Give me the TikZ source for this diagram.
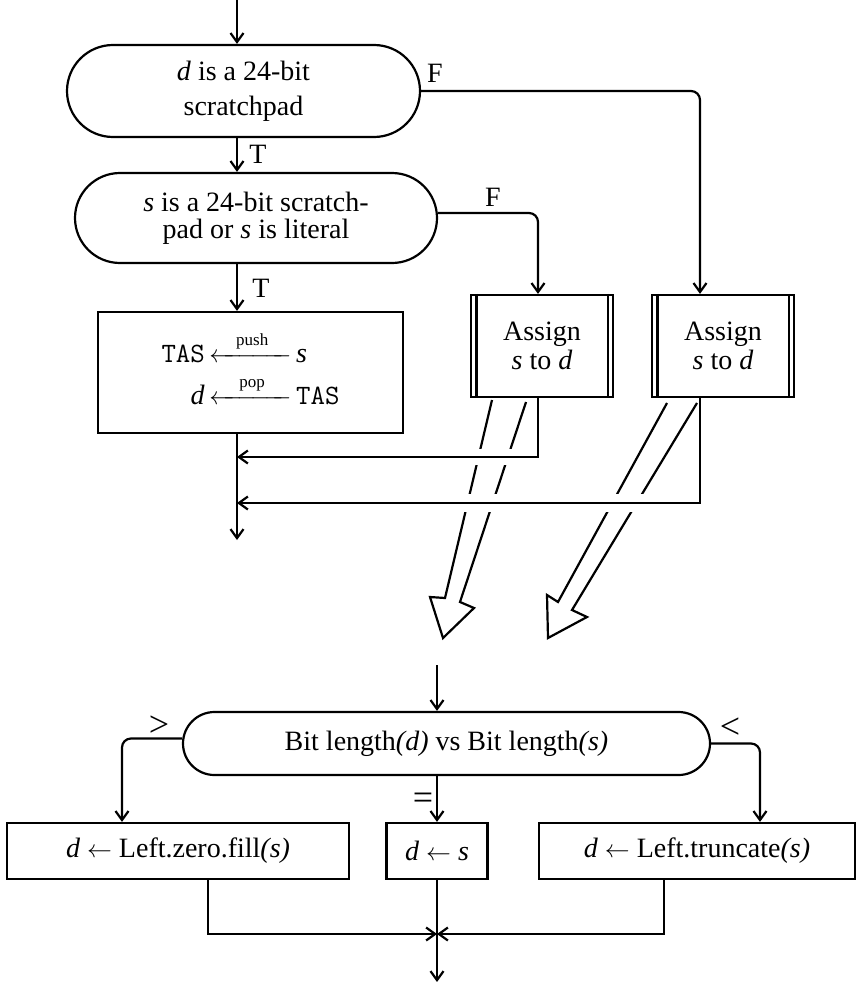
\documentclass[tikz,border=0pt]{standalone}
\usepackage{amsmath}
\usepackage{fontspec}
\setmainfont{Liberation Serif}
\usetikzlibrary{shapes.misc,arrows.meta}
\begin{document}
\begin{tikzpicture}[x=1pt,y=-1pt,line width=2.2pt,
  >={Straight Barb[length=9pt,width=13pt]},
  txt/.style={font=\fontsize{28}{30}\selectfont},
  dec/.style={draw,rounded rectangle,inner sep=0pt,align=center,txt},
  proc/.style={draw,rectangle,inner sep=0pt,align=center,txt},
  lbl/.style={txt,inner sep=0pt},
  sym/.style={inner sep=0pt,font=\fontsize{36}{36}\selectfont},
  gap/.style={fill=white,draw=none},
  hollow/.style={line join=miter,line cap=butt}]
\useasboundingbox (0,0) rectangle (860,982);

% column coordinates
\coordinate (colM) at (237,0);
\coordinate (colA1) at (538,0);
\coordinate (colA2) at (700,0);
\coordinate (colN) at (437,0);
\coordinate (colL) at (122,0);
\coordinate (colR) at (760,0);
\coordinate (colB1) at (208,0);
\coordinate (colB3) at (664,0);
\coordinate (mainend) at (237,540);
\coordinate (j1) at (237,457);
\coordinate (j2) at (237,503);
\coordinate (in3) at (437,665);
\coordinate (jx) at (437,934);
\coordinate (out) at (437,982);

% nodes
\node[dec,minimum width=353pt,minimum height=92pt,font=\fontsize{28}{35}\selectfont] (d1) at (243.5,91) {\textit{d} is a 24-bit\\scratchpad};
\node[dec,minimum width=362pt,minimum height=90pt,font=\fontsize{28}{27}\selectfont] (d2) at (256,218) {\textit{s} is a 24-bit scratch-\\pad or \textit{s} is literal};
\node[proc,minimum width=305pt,minimum height=121pt] (tas) at (250.5,372.5) {%
  \begin{tabular}{@{}r@{\,}c@{\,}l@{}}
  \texttt{TAS} & $\xleftarrow{\makebox[66pt]{\raisebox{3pt}{\fontsize{17}{17}\selectfont push}}}$ & \textit{s}\\[5pt]
  \textit{d} & $\xleftarrow{\makebox[66pt]{\raisebox{3pt}{\fontsize{17}{17}\selectfont pop}}}$ & \texttt{TAS}
  \end{tabular}};
\node[proc,minimum width=142pt,minimum height=102pt,font=\fontsize{28}{29}\selectfont] (a1) at (542,346) {Assign\\\textit{s} to \textit{d}};
\node[proc,minimum width=142pt,minimum height=102pt,font=\fontsize{28}{29}\selectfont] (a2) at (723,346) {Assign\\\textit{s} to \textit{d}};
\draw ([xshift=6.5pt]a1.north west) -- ([xshift=6.5pt]a1.south west);
\draw ([xshift=-6.5pt]a1.north east) -- ([xshift=-6.5pt]a1.south east);
\draw ([xshift=6.5pt]a2.north west) -- ([xshift=6.5pt]a2.south west);
\draw ([xshift=-6.5pt]a2.north east) -- ([xshift=-6.5pt]a2.south east);

\node[dec,minimum width=527pt,minimum height=63pt] (d3) at (446.5,743.5) {Bit length\textit{(d)} vs Bit length\textit{(s)}};
\node[proc,minimum width=342pt,minimum height=56pt] (b1) at (178,851) {\textit{d} $\leftarrow$ Left.zero.fill\textit{(s)}};
\node[proc,minimum width=101pt,minimum height=56pt] (b2) at (437,851) {\textit{d} $\leftarrow$ \textit{s}};
\node[proc,minimum width=316pt,minimum height=56pt] (b3) at (697,851) {\textit{d} $\leftarrow$ Left.truncate\textit{(s)}};

% labels
\node[lbl] (lF1) at (435,73) {F};
\node[lbl] (lF2) at (493,197) {F};
\node[lbl] (lT1) at (258,154) {T};
\node[lbl] (lT2) at (261,288) {T};
\node[sym] (lgt) at (159,726) {>};
\node[sym] (llt) at (730,728) {<};
\node[sym] (leq) at (423,801) {=};

% hollow arrows
\draw[hollow] (492,400) -- (445,598) -- (430,597) -- (443,638) -- (474,608) -- (460,602) -- (526,402);
\draw[hollow] (667,403) -- (558,602) -- (547,595) -- (548,638) -- (587,617) -- (572,610) -- (697,403);
\fill[gap] (470,449) rectangle (516,465);
\fill[gap] (458,494) rectangle (502,512);
\fill[gap] (603,494) rectangle (646,512);

% connectors
\draw[->] (colM) -- (colM |- d1.north);
\draw[->] (colM |- d1.south) -- (colM |- d2.north);
\draw[->] (colM |- d2.south) -- (colM |- tas.north);
\draw[->] (colM |- tas.south) -- (mainend);
\draw[->,rounded corners=9pt] (d1.east) -- (d1.east -| colA2) -- (colA2 |- a2.north);
\draw[->,rounded corners=9pt] ([yshift=5pt]d2.east) -- ([yshift=5pt]d2.east -| colA1) -- (colA1 |- a1.north);
\draw[->] (colA1 |- a1.south) -- (colA1 |- j1) -- (j1);
\draw[->] (colA2 |- a2.south) -- (colA2 |- j2) -- (j2);

\draw[->] (in3) -- (colN |- d3.north);
\draw[->,rounded corners=9pt] ([yshift=5pt]d3.west) -- ([yshift=5pt]d3.west -| colL) -- (colL |- b1.north);
\draw[->,rounded corners=9pt] (d3.east) -- (d3.east -| colR) -- (colR |- b3.north);
\draw[->] (colN |- d3.south) -- (b2.north);
\draw[->] (colB1 |- b1.south) -- (colB1 |- jx) -- (jx);
\draw[->] (colB3 |- b3.south) -- (colB3 |- jx) -- (jx);
\draw[->] (b2.south) -- (out);
\end{tikzpicture}
\end{document}
